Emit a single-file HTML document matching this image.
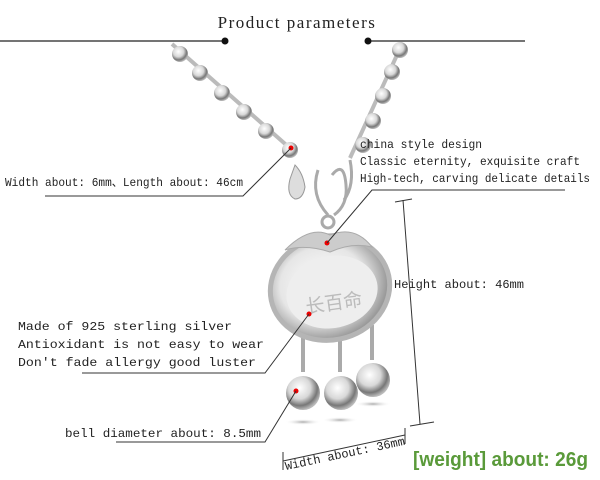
<!DOCTYPE html>
<html><head><meta charset="utf-8"><style>
html,body{margin:0;padding:0;background:#fff;width:600px;height:480px;overflow:hidden}
svg{display:block}
text{font-family:"Liberation Mono","DejaVu Sans Mono",monospace;fill:#222}
</style></head><body>
<svg width="600" height="480" viewBox="0 0 600 480">
<defs>
<radialGradient id="b" cx="40%" cy="35%" r="65%"><stop offset="0" stop-color="#fff"/><stop offset="0.5" stop-color="#d8d8d8"/><stop offset="0.8" stop-color="#777"/><stop offset="1" stop-color="#bbb"/></radialGradient>
<radialGradient id="p" cx="45%" cy="45%" r="60%"><stop offset="0" stop-color="#fff"/><stop offset="0.6" stop-color="#e6e6e6"/><stop offset="0.9" stop-color="#999"/><stop offset="1" stop-color="#ccc"/></radialGradient>
<radialGradient id="sh" cx="50%" cy="50%" r="50%"><stop offset="0" stop-color="#aaa"/><stop offset="1" stop-color="#fff" stop-opacity="0"/></radialGradient>
</defs>
<text x="297" y="28" font-size="17" text-anchor="middle" style="font-family:'Liberation Serif',serif" letter-spacing="1.5">Product parameters</text>
<line x1="0" y1="41" x2="225" y2="41" stroke="#222" stroke-width="1.2"/><circle cx="225" cy="41" r="3.5" fill="#111"/>
<line x1="368" y1="41" x2="525" y2="41" stroke="#222" stroke-width="1.2"/><circle cx="368" cy="41" r="3.5" fill="#111"/>
<line x1="172" y1="44" x2="292" y2="150" stroke="#bbb" stroke-width="4"/>
<line x1="402" y1="44" x2="350" y2="158" stroke="#bbb" stroke-width="4"/>
<g fill="url(#b)">
<circle cx="180" cy="54" r="8"/><circle cx="200" cy="73" r="8"/><circle cx="222" cy="93" r="8"/><circle cx="244" cy="112" r="8"/><circle cx="266" cy="131" r="8"/><circle cx="290" cy="150" r="8"/>
<circle cx="400" cy="50" r="8"/><circle cx="392" cy="72" r="8"/><circle cx="383" cy="96" r="8"/><circle cx="373" cy="121" r="8"/><circle cx="363" cy="145" r="8"/>
</g>
<circle cx="291" cy="148" r="2.5" fill="#e00"/>
<path d="M295 165 q8 8 10 22 q-2 12 -10 12 q-9 -4 -5 -20 z" fill="#ddd" stroke="#999"/>
<path d="M318 170 q-8 25 10 45 M332 175 q12 -15 14 10 q2 20 -12 30" fill="none" stroke="#aaa" stroke-width="3"/>
<path d="M350 160 q5 25 -6 40" fill="none" stroke="#aaa" stroke-width="3"/>
<circle cx="328" cy="222" r="6" fill="none" stroke="#aaa" stroke-width="3"/>
<line x1="303" y1="372" x2="303" y2="330" stroke="#aaa" stroke-width="4"/><line x1="340" y1="372" x2="340" y2="330" stroke="#aaa" stroke-width="4"/><line x1="372" y1="360" x2="372" y2="325" stroke="#aaa" stroke-width="4"/>
<ellipse cx="330" cy="288" rx="60" ry="52" fill="url(#p)" stroke="#b5b5b5" stroke-width="5" transform="rotate(-12 330 288)"/>
<ellipse cx="332" cy="292" rx="46" ry="36" fill="#eee" transform="rotate(-12 332 292)"/>
<path d="M285 250 q25 -25 45 -15 q25 -10 42 12 q-20 -5 -42 5 q-25 -8 -45 -2z" fill="#ccc" stroke="#aaa"/>
<text x="305" y="310" font-size="19" style="fill:#bbb;font-family:'Noto Sans CJK SC',sans-serif" transform="rotate(-8 330 300)">长百命</text>
<circle cx="327" cy="243" r="2.5" fill="#e00"/><circle cx="309" cy="314" r="2.5" fill="#e00"/>
<ellipse cx="303" cy="422" rx="18" ry="3" fill="url(#sh)"/><ellipse cx="340" cy="420" rx="18" ry="3" fill="url(#sh)"/><ellipse cx="373" cy="404" rx="18" ry="3" fill="url(#sh)"/>
<circle cx="303" cy="393" r="17" fill="url(#b)"/><circle cx="341" cy="393" r="17" fill="url(#b)"/><circle cx="373" cy="380" r="17" fill="url(#b)"/>
<circle cx="296" cy="391" r="2.5" fill="#e00"/>
<g font-size="12">
<text x="5" y="186" textLength="238" lengthAdjust="spacingAndGlyphs">Width about: 6mm、Length about: 46cm</text>
<text x="360" y="148" textLength="122" lengthAdjust="spacingAndGlyphs">china style design</text>
<text x="360" y="165" textLength="220" lengthAdjust="spacingAndGlyphs">Classic eternity, exquisite craft</text>
<text x="360" y="182" textLength="230" lengthAdjust="spacingAndGlyphs">High-tech, carving delicate details</text>
<text x="394" y="288" textLength="130" lengthAdjust="spacingAndGlyphs">Height about: 46mm</text>
<text x="18" y="330" textLength="214" lengthAdjust="spacingAndGlyphs">Made of 925 sterling silver</text>
<text x="18" y="348" textLength="246" lengthAdjust="spacingAndGlyphs">Antioxidant is not easy to wear</text>
<text x="18" y="366" textLength="238" lengthAdjust="spacingAndGlyphs">Don't fade allergy good luster</text>
<text x="65" y="437" textLength="196" lengthAdjust="spacingAndGlyphs">bell diameter about: 8.5mm</text>
<text transform="translate(286,470) rotate(-12)" textLength="122" lengthAdjust="spacingAndGlyphs">Width about: 36mm</text>
</g>
<g stroke="#333" stroke-width="1" fill="none">
<polyline points="45,196 243,196 291,148"/>
<polyline points="565,190 372,190 327,243"/>
<polyline points="82,373 265,373 309,314"/>
<polyline points="116,442 265,442 296,391"/>
<line x1="403" y1="200" x2="420" y2="424"/><line x1="395" y1="202" x2="412" y2="199"/><line x1="410" y1="426" x2="434" y2="422"/>
<line x1="283" y1="461" x2="405" y2="435"/><line x1="283" y1="452" x2="283" y2="470"/><line x1="405" y1="428" x2="405" y2="444"/>
</g>
<text x="413" y="466" font-size="20" font-weight="bold" textLength="175" lengthAdjust="spacingAndGlyphs" style="font-family:'Liberation Sans',sans-serif;fill:#5a9a3a;stroke:#fff;stroke-width:0.6;paint-order:stroke">[weight] about: 26g</text>
</svg>
</body></html>
